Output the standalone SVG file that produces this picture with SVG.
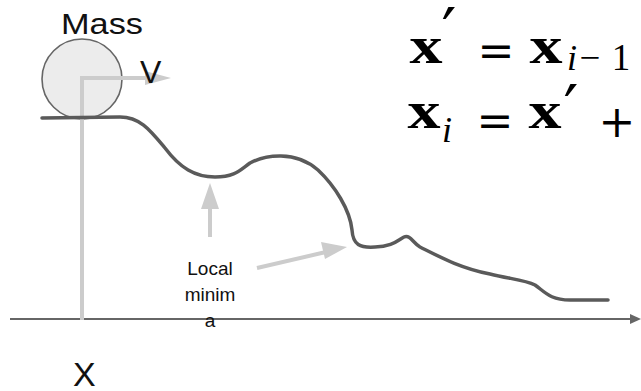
<svg xmlns="http://www.w3.org/2000/svg" width="641" height="391" viewBox="0 0 641 391">
<style>
.lbl{font-family:"Liberation Sans",Arial,sans-serif;fill:#111}
.bx{font-family:"Liberation Serif","Times New Roman",serif;font-weight:bold;font-size:52px;fill:#000;text-anchor:middle}
.op{font-family:"DejaVu Serif",serif;font-size:44px;fill:#000;text-anchor:middle}
.pr{font-family:"DejaVu Serif",serif;font-size:66px;fill:#000;text-anchor:middle}
.sub{font-family:"Liberation Serif","Times New Roman",serif;font-style:italic;font-size:36px;fill:#000;text-anchor:middle}
.subn{font-family:"Liberation Serif","Times New Roman",serif;font-size:37px;fill:#000;text-anchor:middle}
.g{stroke:#cccccc;stroke-width:4;fill:none}
.gh{fill:#cccccc}
</style>
<rect width="641" height="391" fill="#fff"/>
<g id="mass">
  <circle cx="82" cy="79" r="40" fill="#ececec" stroke="#666" stroke-width="1.6"/>
  <text class="lbl" x="61" y="34" font-size="30" textLength="82" lengthAdjust="spacingAndGlyphs">Mass</text>
</g>
<g id="connectors">
  <line x1="10" y1="319" x2="632" y2="319" stroke="#666" stroke-width="2"/>
  <polygon points="641,319 630,314 630,324" fill="#666"/>
  <polyline class="g" points="82,320 82,78 147,78"/>
  <polygon class="gh" points="171,78 145,71 145,85"/>
  <line class="g" x1="210" y1="237" x2="210" y2="206"/>
  <polygon class="gh" points="210,183 201,209 219,209"/>
  <line class="g" x1="257" y1="268" x2="326" y2="252"/>
  <polygon class="gh" points="347,247 321,242 325,259"/>
</g>
<g id="landscape">
  <path d="M42 118 L120 117 C140 117 150 130 165 148 C180 168 195 177 215 177 C235 177 240 170 250 163 C265 155 295 150 318 170 C335 186 350 210 352 230 C353 245 360 248 375 247 C392 247 398 240 404 237 C410 234 413 243 420 247 C440 257 460 268 490 274 C510 279 525 280 535 285 C545 292 550 300 570 300 L608 300" fill="none" stroke="#5a5a5a" stroke-width="3.5" stroke-linecap="round"/>
</g>
<g id="velocity">
  <text class="lbl" x="140" y="83" font-size="32">V</text>
</g>
<g id="local-minima">
  <text class="lbl" font-size="19" text-anchor="middle"><tspan x="210" y="275">Local</tspan><tspan x="210" y="301">minim</tspan><tspan x="210" y="327">a</tspan></text>
</g>
<g id="x-label">
  <text class="lbl" x="73" y="386" font-size="34">X</text>
</g>
<g id="formula">
  <text class="bx" x="426" y="63" textLength="33" lengthAdjust="spacingAndGlyphs">x</text>
  <text class="pr" x="449" y="55">′</text>
  <text class="op" x="496" y="66" textLength="37" lengthAdjust="spacingAndGlyphs">=</text>
  <text class="bx" x="546" y="63" textLength="33" lengthAdjust="spacingAndGlyphs">x</text>
  <text class="sub" x="572" y="70">i</text>
  <text class="subn" x="590" y="70">−</text>
  <text class="subn" x="621" y="70">1</text>
  <text class="bx" x="424" y="128" textLength="33" lengthAdjust="spacingAndGlyphs">x</text>
  <text class="sub" x="447" y="142">i</text>
  <text class="op" x="495" y="136" textLength="37" lengthAdjust="spacingAndGlyphs">=</text>
  <text class="bx" x="545" y="128" textLength="33" lengthAdjust="spacingAndGlyphs">x</text>
  <text class="pr" x="571" y="132">′</text>
  <text class="op" x="617" y="137" font-size="62">+</text>
</g>
</svg>
